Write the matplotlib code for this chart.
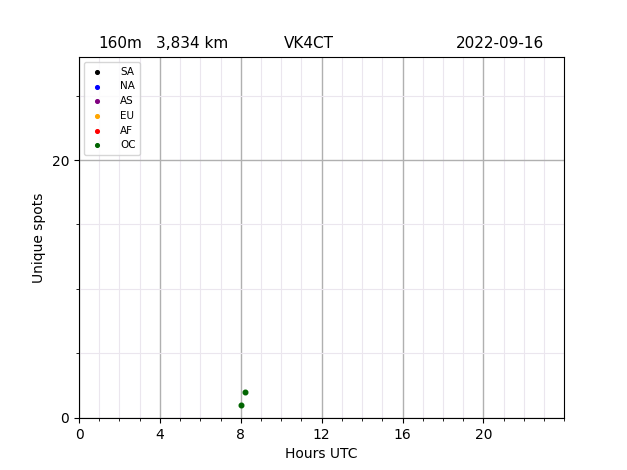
import matplotlib
matplotlib.use('Agg')
import matplotlib.pyplot as plt
from matplotlib.ticker import MultipleLocator

# continents and colours
continents = ['SA', 'NA', 'AS', 'EU', 'AF', 'OC']
colours = ['black', 'blue', 'purple', 'orange', 'red', 'darkgreen']

# spots per continent (hour UTC, unique spots)
hours = {'SA': [], 'NA': [], 'AS': [], 'EU': [], 'AF': [], 'OC': [8.0, 8.2]}
spots = {'SA': [], 'NA': [], 'AS': [], 'EU': [], 'AF': [], 'OC': [1, 2]}

xticks = [0, 4, 8, 12, 16, 20]

band = '160m'
distance = '3,834 km'
call = 'VK4CT'
date = '2022-09-16'

fig = plt.figure(figsize=(6.27, 4.70), dpi=100)
ax = fig.add_axes([0.126, 0.111, 0.774, 0.768])

for c, col in zip(continents, colours):
    ax.scatter(hours[c], spots[c], s=11, color=col, label=c, zorder=3)

ax.set_xlim(0, 24)
ax.set_ylim(0, 28)
ax.set_xticks(xticks)
ax.xaxis.set_minor_locator(MultipleLocator(1))
ax.yaxis.set_major_locator(MultipleLocator(20))
ax.yaxis.set_minor_locator(MultipleLocator(5))
ax.grid(which='major', color='#b0b0b0', linewidth=1.0)
ax.grid(which='minor', color='#ebe6ee', linewidth=0.8)
ax.set_axisbelow(True)

ax.set_xlabel('Hours UTC')
ax.set_ylabel('Unique spots')

leg = ax.legend(loc='upper left', fontsize=7.5, handletextpad=1.4, markerscale=0.8,
                handlelength=1.6, borderpad=0.45, labelspacing=0.45)

fig.text(0.191, 0.897, band, ha='center', fontsize=11)
fig.text(0.306, 0.897, distance, ha='center', fontsize=11)
fig.text(0.492, 0.897, call, ha='center', fontsize=11)
fig.text(0.798, 0.897, date, ha='center', fontsize=11)

plt.savefig('out.png')
